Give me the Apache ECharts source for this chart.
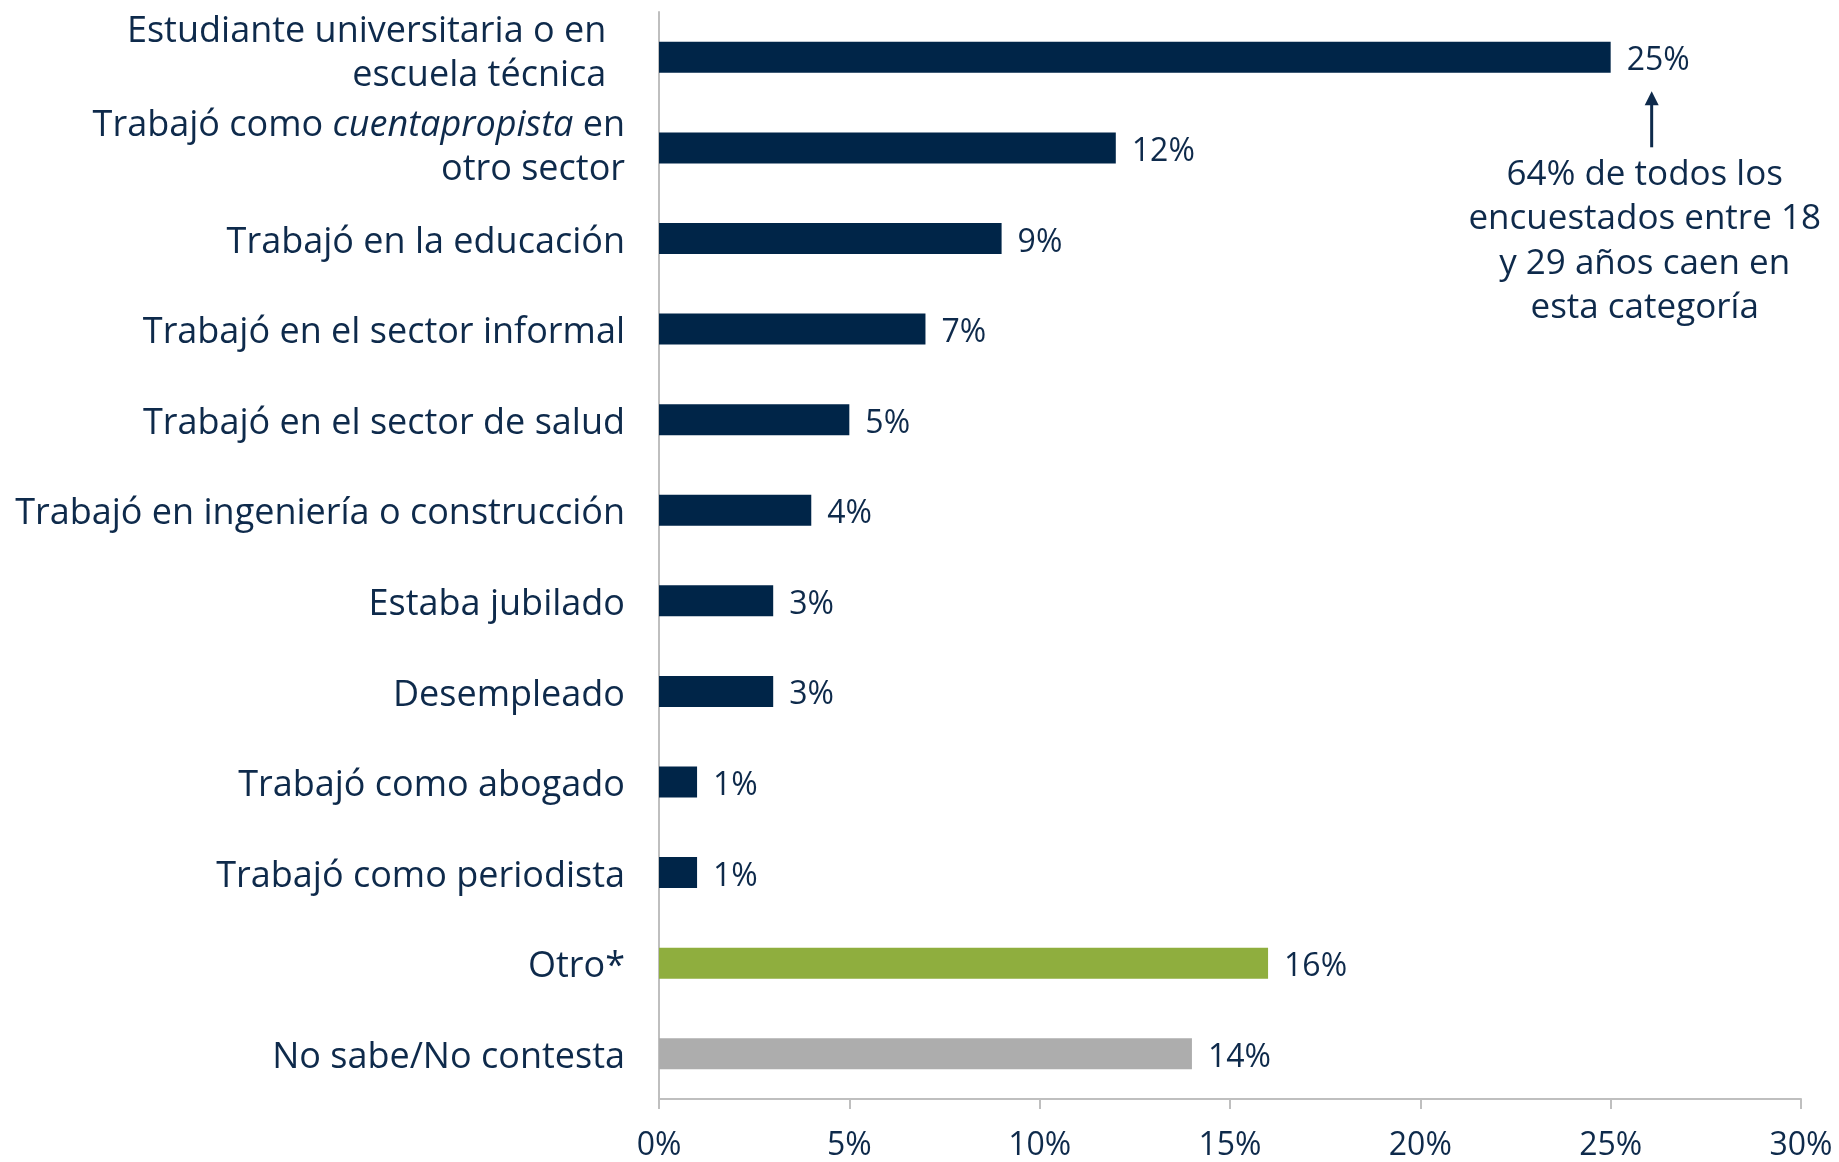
<!DOCTYPE html>
<html><head><meta charset="utf-8">
<script src="https://cdn.jsdelivr.net/npm/echarts@6/dist/echarts.min.js"></script>
<style>html,body{margin:0;padding:0;background:#fff}#c{width:1839px;height:1162px}</style>
</head><body><div id="c"></div>
<script>
const categories = [
  "{n|Estudiante universitaria o en  }\n{n|escuela técnica  }\n{s| }",
  "{n|Trabajó como }{i|cuentapropista}{n| en}\n{n|otro sector}\n{t| }",
  "{n|Trabajó en la educación}",
  "{n|Trabajó en el sector informal}",
  "{n|Trabajó en el sector de salud}",
  "{n|Trabajó en ingeniería o construcción}",
  "{n|Estaba jubilado}",
  "{n|Desempleado}",
  "{n|Trabajó como abogado}",
  "{n|Trabajó como periodista}",
  "{n|Otro*}",
  "{n|No sabe/No contesta}"
];
const values = [25, 12, 9, 7, 5, 4, 3, 3, 1, 1, 16, 14];
const barColors = ["#002548","#002548","#002548","#002548","#002548","#002548","#002548","#002548","#002548","#002548","#8FAE3E","#ADADAD"];
const xTicks = [0, 5, 10, 15, 20, 25, 30];
const annotationLines = ["64% de todos los", "encuestados entre 18", "y 29 años caen en", "esta categoría"];

const FONT = "Open Sans";
const TXT = "#0E2A4B";
const chart = echarts.init(document.getElementById('c'), null, {renderer: 'canvas'});
chart.setOption({
  animation: false,
  backgroundColor: '#fff',
  grid: {left: 659, right: 38, top: 12, bottom: 63, containLabel: false},
  xAxis: {
    type: 'value', min: xTicks[0], max: xTicks[xTicks.length - 1], interval: 5,
    axisLine: {show: true, lineStyle: {color: '#BFBFBF', width: 2}},
    axisTick: {show: true, length: 10, lineStyle: {color: '#BFBFBF', width: 2}},
    splitLine: {show: false},
    axisLabel: {formatter: '{value}%', color: TXT, fontFamily: FONT, fontSize: 32, margin: 31}
  },
  yAxis: {
    type: 'category', inverse: true, data: categories,
    axisLine: {show: true, lineStyle: {color: '#BFBFBF', width: 2}},
    axisTick: {show: false},
    axisLabel: {
      margin: 34, align: 'right', padding: [8, 0, 0, 0],
      rich: {
        n: {color: TXT, fontFamily: FONT, fontSize: 36, lineHeight: 44},
        s: {color: TXT, fontFamily: FONT, fontSize: 2, lineHeight: 16},
        t: {color: TXT, fontFamily: FONT, fontSize: 2, lineHeight: 8},
        i: {color: TXT, fontFamily: FONT, fontSize: 36, fontStyle: 'italic', lineHeight: 44}
      }
    }
  },
  series: [{
    type: 'bar', barWidth: 31,
    data: values.map((v, i) => ({value: v, itemStyle: {color: barColors[i]}})),
    label: {show: true, position: 'right', distance: 16, offset: [0, 4], formatter: '{c}%', color: TXT, fontFamily: FONT, fontSize: 32}
  }]
});
// annotation anchored to the first bar's value label
const p = chart.convertToPixel({xAxisIndex: 0, yAxisIndex: 0}, [values[0], 0]);
const ax = p[0] + 41, topY = p[1] + 34;
chart.setOption({
  graphic: [
    {type: 'line', shape: {x1: ax, y1: topY + 56, x2: ax, y2: topY + 10}, style: {stroke: TXT, lineWidth: 3}},
    {type: 'polygon', shape: {points: [[ax - 7, topY + 14], [ax + 7, topY + 14], [ax, topY]]}, style: {fill: TXT}},
    {type: 'text', x: ax - 7, y: topY + 61, style: {text: annotationLines.join('\n'), fill: TXT, font: '35px "' + FONT + '"', align: 'center', verticalAlign: 'top', lineHeight: 44.5}}
  ]
});
</script></body></html>
